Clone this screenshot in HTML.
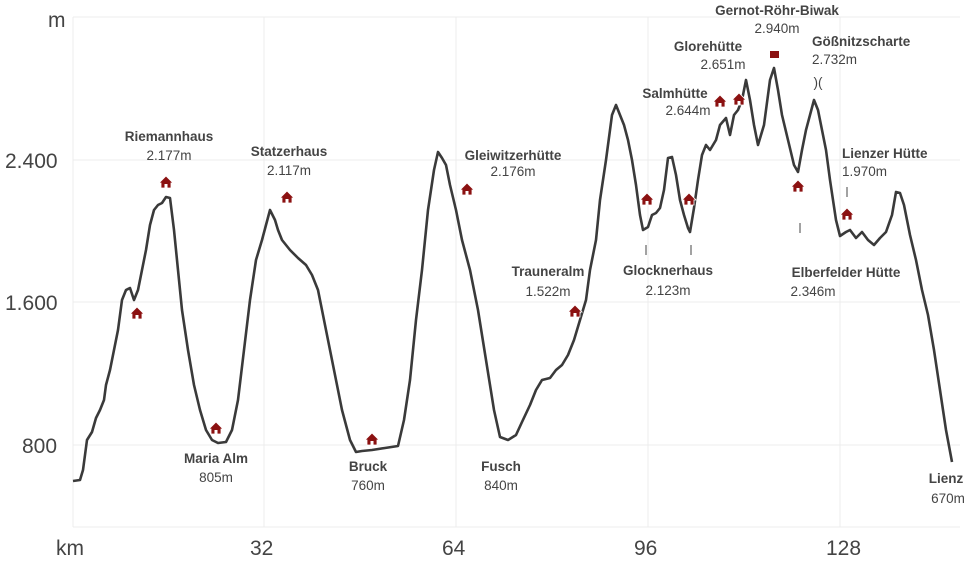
<!DOCTYPE html><html><head><style>body{margin:0;background:#fff}svg{display:block}text{font-family:"Liberation Sans",sans-serif}</style></head><body>
<svg width="967" height="561" viewBox="0 0 967 561">
<defs><g id="h"><path d="M-7,1 L0,-6 L7,1 L5,1 L5,6 L-5,6 L-5,1Z" fill="#8b1111" stroke="#fff" stroke-width="0.8"/><rect x="-1.5" y="2" width="3" height="4" fill="#fff"/></g></defs>
<g stroke="#ececec" stroke-width="1">
<line x1="73" y1="17" x2="960" y2="17"/><line x1="73" y1="160" x2="960" y2="160"/><line x1="73" y1="302" x2="960" y2="302"/><line x1="73" y1="445" x2="960" y2="445"/><line x1="73" y1="527" x2="960" y2="527"/>
<line x1="73" y1="17" x2="73" y2="527"/><line x1="264" y1="17" x2="264" y2="527"/><line x1="456" y1="17" x2="456" y2="527"/><line x1="648" y1="17" x2="648" y2="527"/><line x1="840" y1="17" x2="840" y2="527"/>
</g>
<g font-size="21" fill="#444"><text x="48" y="27">m</text><text x="5" y="168">2.400</text><text x="5" y="310">1.600</text><text x="22" y="453">800</text>
<text x="56" y="555">km</text><text x="250" y="555">32</text><text x="442" y="555">64</text><text x="634" y="555">96</text><text x="826" y="555">128</text></g>
<polyline fill="none" stroke="#3a3a3a" stroke-width="2.6" stroke-linejoin="round" points="73,481 80,480 83,470 87,440 92,432 96,418 100,410 104,400 106,385 110,370 114,350 118,330 122,300 126,290 130,288 134,300 138,290 142,270 146,250 150,225 154,210 158,205 162,203 166,197 170,198 174,230 178,270 182,310 188,350 194,385 200,410 206,430 212,440 218,443 226,442 232,430 238,400 244,350 250,300 256,260 262,240 266,225 270,210 275,220 278,230 282,240 290,250 298,258 306,265 312,275 318,290 324,320 330,350 336,380 342,410 350,440 356,452 362,451 372,450 385,448 398,446 404,420 410,380 416,320 422,270 428,210 434,170 438,152 442,158 446,165 450,185 456,210 462,240 470,270 478,310 486,360 494,410 500,437 508,440 516,435 522,422 530,405 536,390 542,380 550,378 556,370 562,365 568,355 574,340 580,320 586,300 590,270 596,240 600,200 606,160 612,115 616,105 620,115 624,125 628,140 632,160 636,185 640,215 643,230 648,227 652,215 656,213 660,208 664,190 668,158 672,157 676,175 680,200 684,215 688,228 690,232 694,208 698,180 702,155 706,145 710,150 716,140 720,125 726,118 730,135 734,115 738,110 742,100 746,80 750,100 754,125 758,145 764,125 770,80 774,68 778,90 782,115 788,140 794,165 798,172 802,150 806,130 810,115 814,100 818,110 822,130 826,150 830,180 836,220 840,236 846,232 850,230 856,238 862,232 868,240 874,245 880,238 886,232 892,215 896,192 900,193 904,205 910,235 916,260 922,290 928,315 934,350 940,390 946,430 952,462"/>
<g><use href="#h" x="137" y="313"/><use href="#h" x="166" y="182"/><use href="#h" x="216" y="428"/><use href="#h" x="287" y="197"/><use href="#h" x="372" y="439"/><use href="#h" x="467" y="189"/><use href="#h" x="575" y="311"/><use href="#h" x="647" y="199"/><use href="#h" x="689" y="199"/><use href="#h" x="720" y="101"/><use href="#h" x="739" y="99"/><use href="#h" x="798" y="186"/><use href="#h" x="847" y="214"/></g>
<rect x="770" y="51" width="9" height="7" fill="#8b1111"/>
<g stroke="#444" stroke-width="1"><line x1="646" y1="245" x2="646" y2="255"/><line x1="691" y1="245" x2="691" y2="255"/><line x1="800" y1="223" x2="800" y2="233"/><line x1="847" y1="187" x2="847" y2="197"/></g>
<g fill="#444" font-size="13.5" text-anchor="middle">
<g font-weight="bold"><text x="169" y="141">Riemannhaus</text><text x="289" y="156">Statzerhaus</text><text x="216" y="463">Maria Alm</text><text x="368" y="471">Bruck</text><text x="513" y="160">Gleiwitzerhütte</text><text x="501" y="471">Fusch</text><text x="548" y="276">Trauneralm</text><text x="668" y="275">Glocknerhaus</text><text x="675" y="98">Salmhütte</text><text x="708" y="51">Glorehütte</text><text x="777" y="15">Gernot-Röhr-Biwak</text><text x="812" y="46" text-anchor="start">Gößnitzscharte</text><text x="842" y="158" text-anchor="start">Lienzer Hütte</text><text x="846" y="277">Elberfelder Hütte</text><text x="946" y="483">Lienz</text><text x="818" y="87" font-weight="normal">)(</text></g>
<text x="169" y="160">2.177m</text><text x="289" y="175">2.117m</text><text x="216" y="482">805m</text><text x="368" y="490">760m</text><text x="513" y="176">2.176m</text><text x="501" y="490">840m</text><text x="548" y="296">1.522m</text><text x="668" y="295">2.123m</text><text x="688" y="115">2.644m</text><text x="723" y="69">2.651m</text><text x="777" y="33">2.940m</text><text x="812" y="64" text-anchor="start">2.732m</text><text x="842" y="176" text-anchor="start">1.970m</text><text x="813" y="296">2.346m</text><text x="948" y="503">670m</text>
</g>
</svg></body></html>
